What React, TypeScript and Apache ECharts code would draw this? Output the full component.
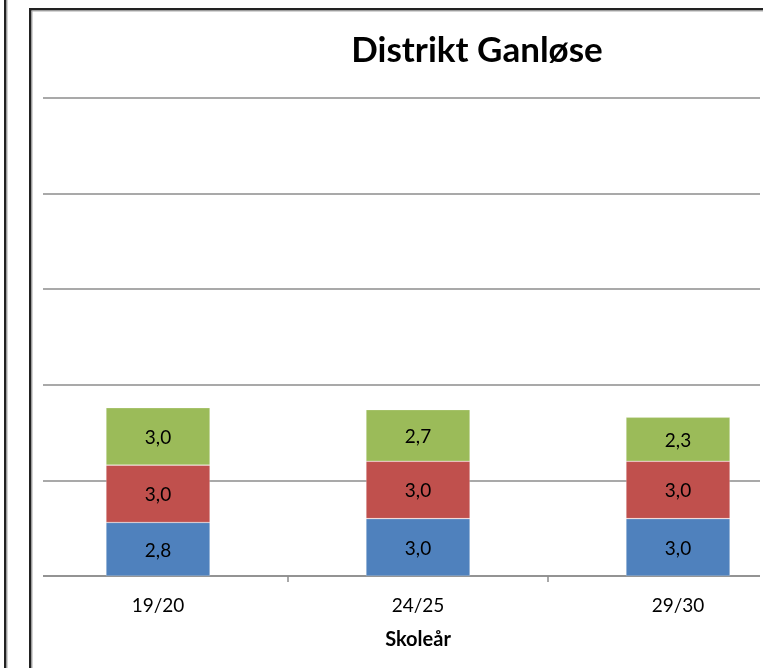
import React, { useEffect, useRef } from "react";
import * as echarts from "echarts";

const categories = ["19/20", "24/25", "29/30"];
const seriesBlue = [2.8, 3.0, 3.0];
const seriesRed = [3.0, 3.0, 3.0];
const seriesGreen = [3.0, 2.7, 2.3];
const titleText = "Distrikt Ganløse";
const xAxisName = "Skoleår";

const FONT = "Lato, 'Open Sans', sans-serif";

export default function App() {
  const ref = useRef<HTMLDivElement>(null);
  useEffect(() => {
    document.body.style.margin = "0";
    const chart = echarts.init(ref.current!, null, { renderer: "svg" });
    const fmt = (p: any) => Number(p.value).toFixed(1).replace(".", ",");
    const label = {
      show: true,
      position: "inside",
      formatter: fmt,
      color: "#000",
      fontSize: 19,
      fontFamily: FONT,
    };
    const mk = (name: string, data: number[], color: string) => ({
      name,
      type: "bar",
      stack: "total",
      data,
      barWidth: 104,
      itemStyle: { color, borderColor: "rgba(255,255,255,0.35)", borderWidth: 0.6 },
      label,
    });
    chart.setOption({
      animation: false,
      grid: {
        left: 28,
        width: 780,
        top: 98,
        bottom: 92,
        containLabel: false,
        outerBoundsMode: "none",
      },
      xAxis: {
        type: "category",
        data: categories,
        name: xAxisName,
        nameLocation: "middle",
        nameGap: 52,
        nameTextStyle: { fontFamily: FONT, fontWeight: "bold", fontSize: 20, color: "#000" },
        axisLine: { lineStyle: { color: "#8c8c8c", width: 1.5 } },
        axisTick: { show: true, length: 6, lineStyle: { color: "#8c8c8c", width: 1.5 } },
        axisLabel: { fontFamily: FONT, fontSize: 19, color: "#000", margin: 19 },
      },
      yAxis: {
        type: "value",
        min: 0,
        max: 25,
        interval: 5,
        axisLabel: { show: false },
        axisLine: { show: false },
        axisTick: { show: false },
        splitLine: { lineStyle: { color: "#8c8c8c", width: 1.5 } },
      },
      series: [
        mk("A", seriesBlue, "#4F81BD"),
        mk("B", seriesRed, "#C0504D"),
        mk("C", seriesGreen, "#9BBB59"),
      ],
      graphic: [
        { type: "rect", z: 100, shape: { x: 0, y: 0, width: 43, height: 668 }, style: { fill: "#fff" } },
        { type: "rect", z: 100, shape: { x: 760, y: 0, width: 10, height: 668 }, style: { fill: "#fff" } },
        { type: "rect", z: 101, shape: { x: 4, y: 0, width: 2.5, height: 668 }, style: { fill: "#222" } },
        { type: "rect", z: 101, shape: { x: 6.5, y: 0, width: 1, height: 668 }, style: { fill: "#aaa" } },
        { type: "rect", z: 101, shape: { x: 29, y: 8, width: 2.5, height: 660 }, style: { fill: "#222" } },
        { type: "rect", z: 101, shape: { x: 31.5, y: 10.5, width: 1, height: 660 }, style: { fill: "#aaa" } },
        { type: "rect", z: 101, shape: { x: 29, y: 8, width: 740, height: 2.5 }, style: { fill: "#222" } },
        { type: "rect", z: 101, shape: { x: 31.5, y: 10.5, width: 740, height: 1 }, style: { fill: "#aaa" } },
        {
          type: "text",
          z: 102,
          x: 477,
          y: 48,
          style: {
            text: titleText,
            fontFamily: FONT,
            fontWeight: "bold",
            fontSize: 35,
            fill: "#000",
            align: "center",
            verticalAlign: "middle",
          },
        },
      ],
    });
    return () => chart.dispose();
  }, []);
  return <div ref={ref} style={{ position: "fixed", left: 0, top: 0, width: 763, height: 668 }} />;
}
